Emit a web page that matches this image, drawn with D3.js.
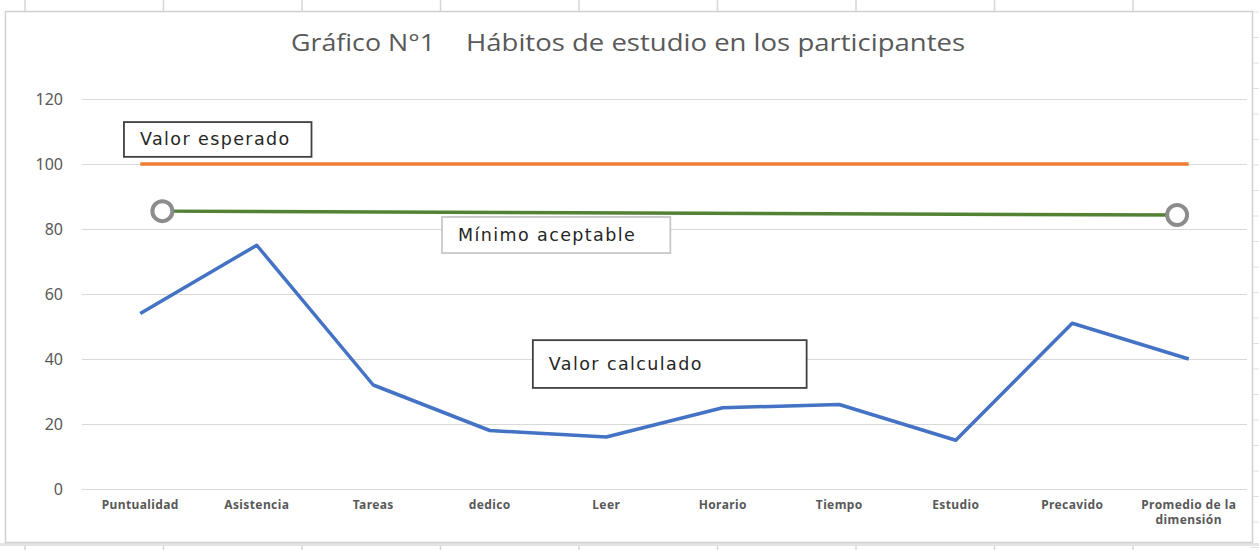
<!DOCTYPE html>
<html lang="es">
<head>
<meta charset="UTF-8">
<title>Hábitos de estudio en los participantes</title>
<script src="https://d3js.org/d3.v7.min.js"></script>
<style>
  body { margin: 0; background: #fff; }
  svg { display: block; }
</style>
</head>
<body>
<div id="chart"></div>
<script>
// Data
const categories = ["Puntualidad", "Asistencia", "Tareas", "dedico", "Leer",
                    "Horario", "Tiempo", "Estudio", "Precavido", "Promedio de la dimensión"];
const calculado = [54, 75, 32, 18, 16, 25, 26, 15, 51, 40];
const esperado = [100, 100, 100, 100, 100, 100, 100, 100, 100, 100];
// the green "minimum" connector runs between two points placed between categories
const minimoPos = [0.19, 8.9];
const minimoVal = [85.5, 84.3];
const yTicks = [0, 20, 40, 60, 80, 100, 120];

// annotation boxes (category position / value)
const notes = [
  {text: "Valor esperado", x0: -0.14, x1: 1.47, y0: 112.9, y1: 102.2, border: "#404040"},
  {text: "Mínimo aceptable", x0: 2.59, x1: 4.55, y0: 83.7, y1: 72.6, border: "#c8c8c8"},
  {text: "Valor calculado", x0: 3.37, x1: 5.72, y0: 45.8, y1: 31.1, border: "#404040"}
];

const W = 1259, H = 550;
const plot = {left: 82, right: 1247, top: 99, bottom: 489};

const svg = d3.select("#chart").append("svg")
    .attr("width", W).attr("height", H);

// spreadsheet background behind the chart object
const sheet = svg.append("g");
d3.range(25, W, 138.5).forEach(x => {
  sheet.append("line").attr("x1", x).attr("x2", x).attr("y1", 0).attr("y2", H)
    .attr("stroke", "#d6d6d6").attr("stroke-width", 1.5);
});
d3.range(12, H, 25.5).forEach(y => {
  sheet.append("line").attr("x1", 1250).attr("x2", W).attr("y1", y).attr("y2", y)
    .attr("stroke", "#e2e2e2").attr("stroke-width", 1);
});
sheet.append("rect").attr("x", 0).attr("y", 543).attr("width", W).attr("height", 3)
  .attr("fill", "#e4e4e4");

// chart area
svg.append("rect")
  .attr("x", 5.5).attr("y", 11.5).attr("width", 1247).attr("height", 531)
  .attr("fill", "#fff").attr("stroke", "#d0d0d0").attr("stroke-width", 1.5);

// title
const title = svg.append("text")
  .attr("y", 51)
  .attr("fill", "#595959")
  .style("font-family", "'Liberation Sans Narrow', 'Open Sans', sans-serif")
  .style("font-size", "24px");
title.append("tspan").attr("x", 291).text("Gráfico N°1")
  .attr("textLength", 144).attr("lengthAdjust", "spacingAndGlyphs");
title.append("tspan").attr("x", 466).text("Hábitos de estudio en los participantes")
  .attr("textLength", 499).attr("lengthAdjust", "spacingAndGlyphs");

// scales
const x = d3.scaleBand().domain(categories).range([plot.left, plot.right]).padding(0);
const y = d3.scaleLinear().domain([0, 120]).range([plot.bottom, plot.top]);
const pos = d3.scaleLinear().domain([0, categories.length - 1])
  .range([x(categories[0]) + x.bandwidth() / 2, x(categories[categories.length - 1]) + x.bandwidth() / 2]);

// y axis with gridlines
const yAxis = svg.append("g")
  .attr("transform", `translate(${plot.left},0)`)
  .call(d3.axisLeft(y).tickValues(yTicks).tickSize(-(plot.right - plot.left)).tickPadding(19));
yAxis.select(".domain").remove();
yAxis.selectAll(".tick line").attr("stroke", "#d9d9d9").attr("stroke-width", 1.2);
yAxis.selectAll(".tick text")
  .attr("fill", "#595959")
  .style("font-family", "'Noto Sans', sans-serif")
  .style("font-size", "16px");

// x axis labels
const xAxis = svg.append("g")
  .attr("transform", `translate(0,${plot.bottom})`)
  .call(d3.axisBottom(x).tickSize(0).tickPadding(11));
xAxis.select(".domain").remove();
xAxis.selectAll(".tick text")
  .attr("fill", "#595959")
  .style("font-family", "'Noto Sans', sans-serif")
  .style("font-size", "12px")
  .style("letter-spacing", "0.4px")
  .style("font-weight", "bold")
  .each(function(d) {
    if (d === "Promedio de la dimensión") {
      const t = d3.select(this);
      t.text(null);
      t.append("tspan").attr("x", 0).attr("dy", "0.71em").text("Promedio de la");
      t.append("tspan").attr("x", 0).attr("dy", "1.3em").text("dimensión");
      t.attr("dy", null);
    }
  });

const cx = (d, i) => x(categories[i]) + x.bandwidth() / 2;

// orange: expected value
svg.append("path")
  .datum(esperado)
  .attr("fill", "none")
  .attr("stroke", "#ED7D31")
  .attr("stroke-width", 3.5)
  .attr("d", d3.line().x(cx).y(d => y(d)));

// green: minimum acceptable connector
const minPts = minimoPos.map((p, i) => ({p: p, v: minimoVal[i]}));
svg.append("path")
  .datum(minPts)
  .attr("fill", "none")
  .attr("stroke", "#548235")
  .attr("stroke-width", 3.5)
  .attr("d", d3.line().x(d => pos(d.p)).y(d => y(d.v)));
svg.selectAll(".endcap")
  .data(minPts)
  .join("circle")
  .attr("class", "endcap")
  .attr("cx", d => pos(d.p))
  .attr("cy", d => y(d.v))
  .attr("r", 10)
  .attr("fill", "#fff")
  .attr("stroke", "#8c8c8c")
  .attr("stroke-width", 4);

// blue: calculated value
svg.append("path")
  .datum(calculado)
  .attr("fill", "none")
  .attr("stroke", "#4472C4")
  .attr("stroke-width", 3.5)
  .attr("stroke-linejoin", "round")
  .attr("d", d3.line().x(cx).y(d => y(d)));

// annotation boxes
const noteG = svg.selectAll(".note")
  .data(notes)
  .join("g")
  .attr("class", "note");
noteG.append("rect")
  .attr("x", d => pos(d.x0))
  .attr("y", d => y(d.y0))
  .attr("width", d => pos(d.x1) - pos(d.x0))
  .attr("height", d => y(d.y1) - y(d.y0))
  .attr("fill", "#fff")
  .attr("stroke", d => d.border)
  .attr("stroke-width", 1.8);
noteG.append("text")
  .attr("x", d => pos(d.x0) + 16)
  .attr("y", d => (y(d.y0) + y(d.y1)) / 2 + 6)
  .attr("fill", "#262626")
  .style("font-family", "'DejaVu Sans', sans-serif")
  .style("font-size", "17.5px")
  .style("letter-spacing", "1.4px")
  .text(d => d.text);
</script>
</body>
</html>
